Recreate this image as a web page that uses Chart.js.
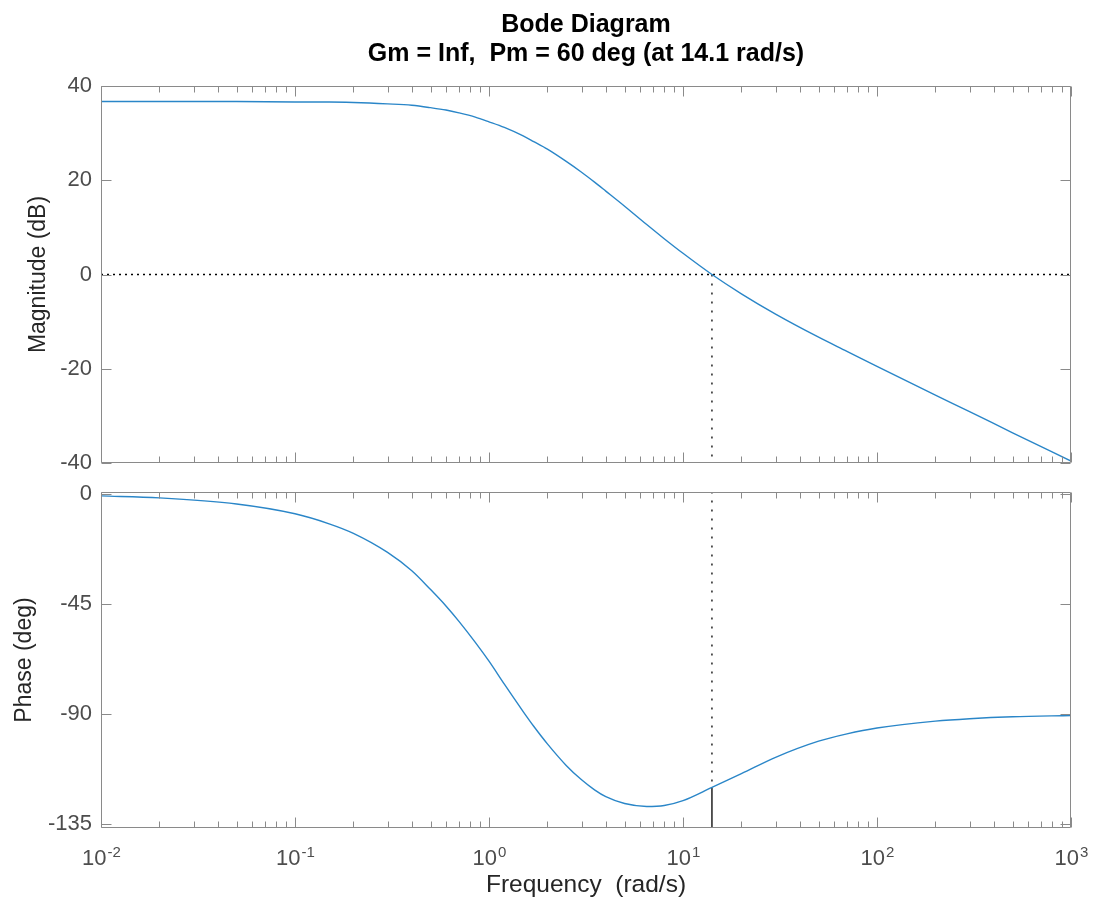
<!DOCTYPE html>
<html>
<head>
<meta charset="utf-8">
<title>Bode Diagram</title>
<script src="https://cdn.jsdelivr.net/npm/chart.js@4.4.1/dist/chart.umd.min.js"></script>
<style>
  html, body { margin: 0; padding: 0; background: #fff; }
  #wrap { position: relative; width: 1094px; height: 904px; }
  #magBox { position: absolute; left: 0; top: 0; width: 1094px; height: 475px; }
  #phaseBox { position: absolute; left: 0; top: 475px; width: 1094px; height: 429px; }
</style>
</head>
<body>
<div id="wrap">
  <div id="magBox"><canvas id="mag"></canvas></div>
  <div id="phaseBox"><canvas id="phase"></canvas></div>
</div>
<script>
// values
const freq = [0.01, 0.02, 0.05, 0.1, 0.15, 0.2, 0.3, 0.4, 0.5, 0.6, 0.7, 0.85, 1, 1.2, 1.5, 1.7, 2, 2.5, 3, 3.5, 4, 5, 6.5, 8, 10, 14.1, 20, 30, 50, 70, 100, 200, 300, 500, 1000];
const magDb = [36.7, 36.7, 36.7, 36.6, 36.6, 36.5, 36.2, 35.9, 35.4, 34.9, 34.3, 33.4, 32.4, 31.2, 29.4, 28.2, 26.6, 24.0, 21.7, 19.6, 17.7, 14.5, 10.6, 7.6, 4.5, 0, -4.1, -8.4, -13.3, -16.3, -19.5, -25.6, -29.1, -33.6, -39.6];
const phaseDeg = [-0.8, -1.6, -4.1, -8.1, -12.2, -16.1, -23.9, -31.4, -39.1, -45.8, -52.1, -60.7, -68.4, -77.8, -89, -95, -102.2, -111, -116.9, -121, -123.8, -126.6, -127.8, -127.4, -125.4, -120, -114.4, -107.7, -101.1, -98.1, -95.7, -92.9, -91.9, -91.1, -90.6];

// crossover (phase margin) marker
const crossFreq = 14.1;
const crossPhase = -120;

const decadeTicks = [0.01, 0.1, 1, 10, 100, 1000];
const decadeBase = '10';
const decadeExp = ['-2', '-1', '0', '1', '2', '3'];
const magTicks = [-40, -20, 0, 20, 40];
const phaseTicks = [-135, -90, -45, 0];

const titleLines = ['Bode Diagram', 'Gm = Inf,  Pm = 60 deg (at 14.1 rad/s)'];

const FONT = '"Liberation Sans", Arial, Helvetica, sans-serif';
const lineColor = 'rgb(42, 134, 200)';
const frameColor = '#8a8a8a';
const tickColor = '#4d4d4d';
const labelColor = '#262626';

const minorTicks = decadeTicks.slice(0, -1).flatMap(d => [2, 3, 4, 5, 6, 7, 8, 9].map(k => k * d));

// MATLAB style box with inward ticks
const boxPlugin = {
  id: 'matlabBox',
  afterDatasetsDraw(chart) {
    const { ctx, chartArea: a, scales } = chart;
    const x = scales.x, y = scales.y;
    const L = Math.round(a.left) + 0.5, R = Math.round(a.right) - 0.5;
    const T = Math.round(a.top) + 0.5, B = Math.round(a.bottom) - 0.5;
    ctx.save();
    ctx.strokeStyle = frameColor;
    ctx.lineWidth = 1;
    ctx.beginPath();
    ctx.rect(L, T, R - L, B - T);
    const vtick = (v, len) => {
      const px = Math.round(x.getPixelForValue(v)) + 0.5;
      ctx.moveTo(px, B); ctx.lineTo(px, B - len);
      ctx.moveTo(px, T); ctx.lineTo(px, T + len);
    };
    decadeTicks.forEach(v => vtick(v, 10));
    minorTicks.forEach(v => vtick(v, 6));
    y.ticks.forEach(t => {
      const py = Math.round(y.getPixelForValue(t.value)) + 0.5;
      ctx.moveTo(L, py); ctx.lineTo(L + 10, py);
      ctx.moveTo(R, py); ctx.lineTo(R - 10, py);
    });
    ctx.stroke();
    ctx.restore();
  }
};

// title on the top axes, power-of-ten labels on the bottom axes
const textPlugin = {
  id: 'bodeText',
  afterDraw(chart) {
    const { ctx, chartArea: a, scales } = chart;
    ctx.save();
    if (chart.canvas.id === 'mag') {
      ctx.fillStyle = '#000';
      ctx.font = 'bold 25px ' + FONT;
      ctx.textAlign = 'center';
      ctx.textBaseline = 'middle';
      const cx = (a.left + a.right) / 2;
      ctx.fillText(titleLines[0], cx, 25);
      ctx.fillText(titleLines[1], cx, 54);
    } else {
      ctx.fillStyle = tickColor;
      ctx.textAlign = 'left';
      ctx.textBaseline = 'alphabetic';
      const baseFont = '22px ' + FONT, expFont = '15px ' + FONT;
      const baseY = a.bottom + 37;
      decadeTicks.forEach((v, i) => {
        const px = scales.x.getPixelForValue(v);
        ctx.font = baseFont;
        const wb = ctx.measureText(decadeBase).width;
        ctx.font = expFont;
        const we = ctx.measureText(decadeExp[i]).width;
        const x0 = px - (wb + we) / 2;
        ctx.font = baseFont;
        ctx.fillText(decadeBase, x0, baseY);
        ctx.font = expFont;
        ctx.fillText(decadeExp[i], x0 + wb + 1, baseY - 8);
      });
    }
    ctx.restore();
  }
};

function xScale(show) {
  return {
    type: 'logarithmic',
    min: 0.01,
    max: 1000,
    display: show,
    grid: { display: false, drawTicks: false },
    border: { display: false },
    afterBuildTicks: s => { s.ticks = decadeTicks.map(v => ({ value: v })); },
    afterFit: s => {
      if (show) s.height = 76;
      s.paddingLeft = 0; s.paddingRight = 0;
    },
    ticks: { display: false },
    title: {
      display: show,
      text: 'Frequency  (rad/s)',
      color: labelColor,
      font: { family: FONT, size: 24.5 },
      padding: { bottom: 4 }
    }
  };
}

function yScale(min, max, ticks, label, titlePad) {
  return {
    min: min,
    max: max,
    grid: { display: false, drawTicks: false },
    border: { display: false },
    afterBuildTicks: s => { s.ticks = ticks.map(v => ({ value: v })); },
    afterFit: s => {
      s.width = 101;
      s.paddingTop = 0; s.paddingBottom = 0;
    },
    ticks: {
      padding: 9,
      color: tickColor,
      font: { family: FONT, size: 22 }
    },
    title: {
      display: true,
      text: label,
      color: labelColor,
      font: { family: FONT, size: 23 },
      padding: { top: titlePad }
    }
  };
}

const pts = (xs, ys) => xs.map((v, i) => ({ x: v, y: ys[i] }));

const common = {
  responsive: true,
  maintainAspectRatio: false,
  animation: false,
  events: [],
  plugins: { legend: { display: false }, tooltip: { enabled: false } }
};

Chart.register(boxPlugin, textPlugin);

new Chart(document.getElementById('mag'), {
  type: 'line',
  data: {
    datasets: [
      {
        label: 'Magnitude',
        data: pts(freq, magDb),
        borderColor: lineColor,
        borderWidth: 1.4,
        pointRadius: 0,
        cubicInterpolationMode: 'monotone'
      },
      {
        label: '0 dB',
        data: [{ x: decadeTicks[0], y: 0 }, { x: decadeTicks[decadeTicks.length - 1], y: 0 }],
        borderColor: '#000',
        borderWidth: 1.3,
        borderDash: [2, 4],
        pointRadius: 0
      },
      {
        label: 'crossover',
        data: [{ x: crossFreq, y: 0 }, { x: crossFreq, y: magTicks[0] }],
        borderColor: '#000',
        borderWidth: 1.3,
        borderDash: [2, 7],
        pointRadius: 0
      }
    ]
  },
  options: {
    ...common,
    layout: { padding: { top: 86, bottom: 12, left: 0, right: 23 } },
    scales: {
      x: xScale(false),
      y: yScale(-40, 40, magTicks, 'Magnitude (dB)', 25)
    }
  }
});

new Chart(document.getElementById('phase'), {
  type: 'line',
  data: {
    datasets: [
      {
        label: 'Phase',
        data: pts(freq, phaseDeg),
        borderColor: lineColor,
        borderWidth: 1.4,
        pointRadius: 0,
        cubicInterpolationMode: 'monotone'
      },
      {
        label: 'crossover',
        data: [{ x: crossFreq, y: 1 }, { x: crossFreq, y: crossPhase }],
        borderColor: '#000',
        borderWidth: 1.3,
        borderDash: [2, 7],
        pointRadius: 0
      },
      {
        label: 'phase margin',
        data: [{ x: crossFreq, y: crossPhase }, { x: crossFreq, y: -180 }],
        borderColor: '#000',
        borderWidth: 1.3,
        pointRadius: 0
      }
    ]
  },
  options: {
    ...common,
    layout: { padding: { top: 17, bottom: 0, left: 0, right: 23 } },
    scales: {
      x: xScale(true),
      y: yScale(-136.6, 0.8, phaseTicks, 'Phase (deg)', 11)
    }
  }
});
</script>
</body>
</html>
